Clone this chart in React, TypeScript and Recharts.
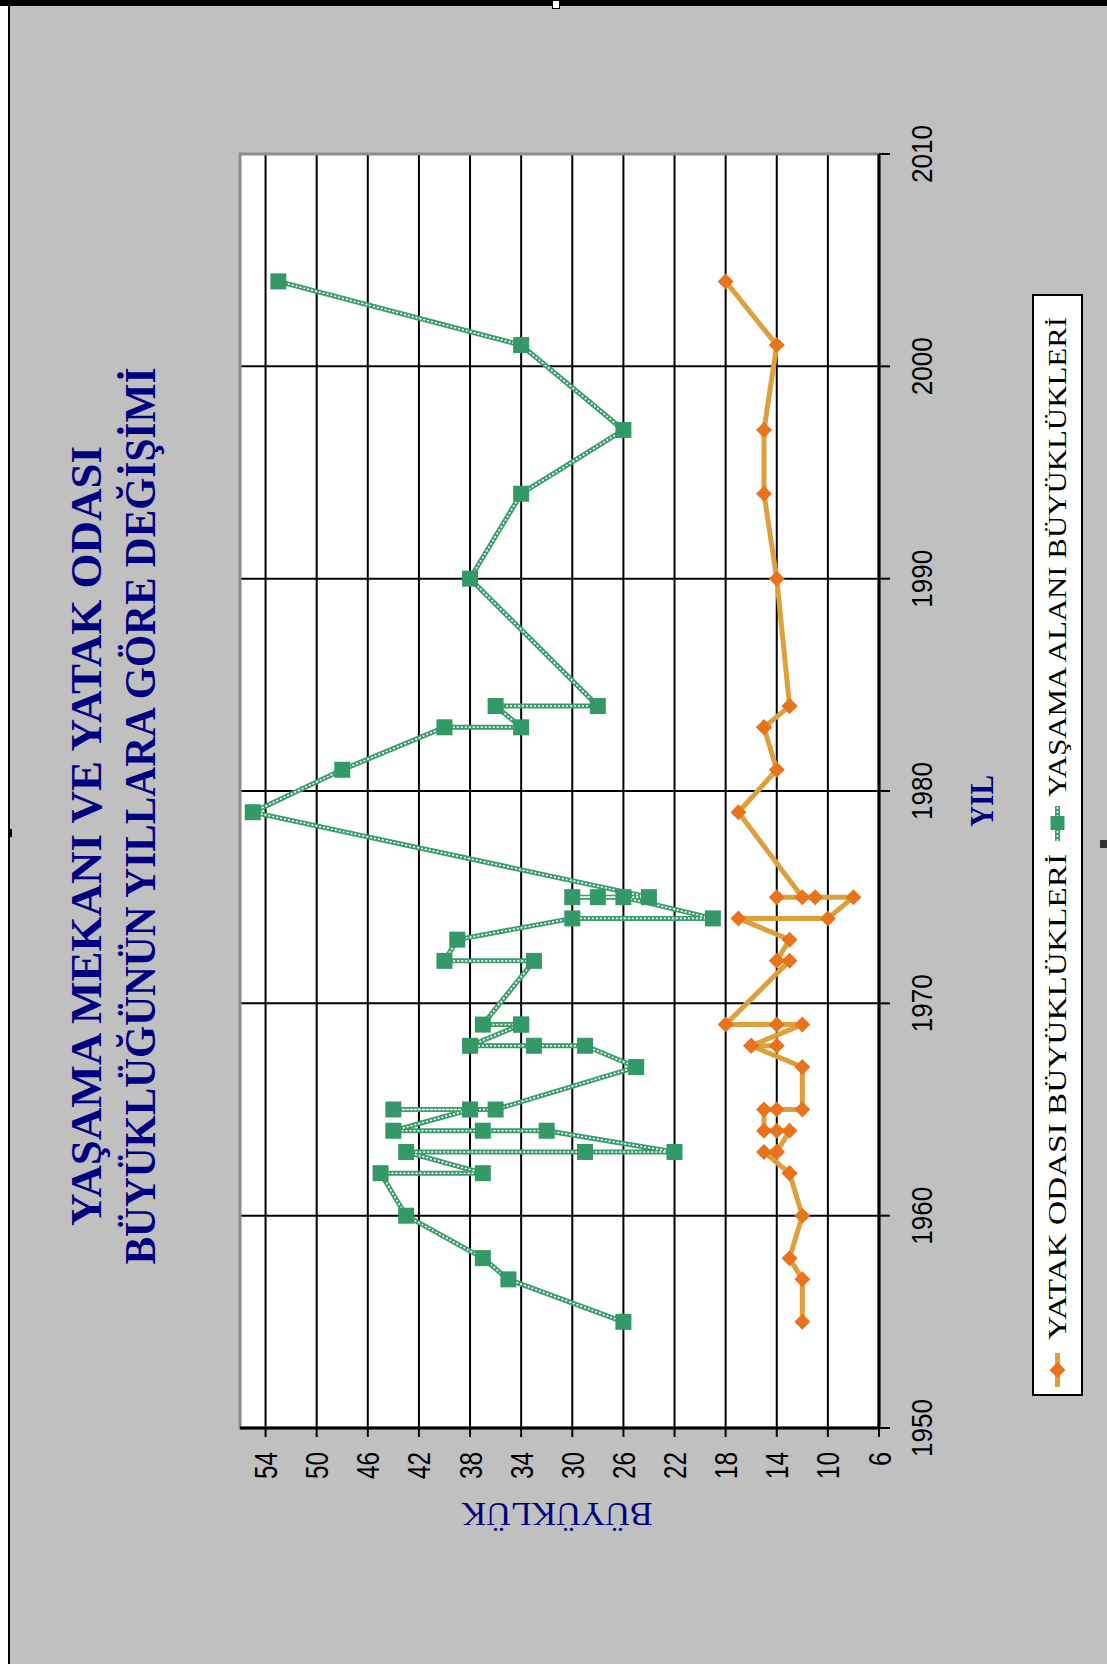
import React from 'react';
import { LineChart, Line, XAxis, YAxis, CartesianGrid, ReferenceArea } from 'recharts';

// ---- data ----
const years = [1955, 1957, 1958, 1960, 1962, 1962, 1963, 1963, 1963, 1964, 1964, 1964, 1965, 1965, 1965, 1967, 1968, 1968, 1968, 1969, 1969, 1969, 1972, 1972, 1973, 1974, 1974, 1975, 1975, 1975, 1975, 1979, 1981, 1983, 1983, 1984, 1984, 1990, 1994, 1997, 2001, 2004];
const bedroomSizes = [12, 12, 13, 12, 13, 13, 15, 14, 14, 13, 14, 15, 15, 14, 12, 12, 16, 14, 16, 12, 14, 18, 13, 14, 13, 17, 10, 8, 14, 11, 12, 17, 14, 15, 15, 13, 13, 14, 15, 15, 14, 18];
const livingSizes = [26, 35, 37, 43, 45, 37, 43, 29, 22, 32, 37, 44, 38, 44, 36, 25, 29, 33, 38, 34, 34, 37, 33, 40, 39, 30, 19, 26, 30, 28, 24, 55, 48, 40, 34, 36, 28, 38, 34, 26, 34, 53];
const yearTicks = [1950, 1960, 1970, 1980, 1990, 2000, 2010];
const sizeTicks = [6, 10, 14, 18, 22, 26, 30, 34, 38, 42, 46, 50, 54];
const titleLines = ['YAŞAMA MEKANI VE YATAK ODASI', 'BÜYÜKLÜĞÜNÜN YILLARA GÖRE DEĞİŞİMİ'];
const xTitle = 'YIL';
const yTitle = 'BÜYÜKLÜK';
const seriesNames = ['YATAK ODASI BÜYÜKLÜKLERİ', 'YAŞAMA ALANI BÜYÜKLÜKLERİ'];

const data = years.map((y, i) => ({ year: y, bed: bedroomSizes[i], living: livingSizes[i] }));

// ---- styles ----
const W = 1664;
const H = 1107;
const GREEN = '#339966';
const GREEN_LINE = '#3C9C6C';
const ORANGE_LINE = '#DDA03A';
const ORANGE_DOT = '#E8731C';
const NAVY = '#000080';
const SANS = '"Liberation Sans", Arial, sans-serif';
const SERIF = '"Liberation Serif", "Times New Roman", serif';

const Diamond = (p: any) => {
  const { cx, cy, index } = p;
  if (cx == null || cy == null) return <g key={`bd${index}`} />;
  const r = 8;
  return (
    <polygon
      key={`bd${index}`}
      points={`${cx},${cy - r} ${cx + r},${cy} ${cx},${cy + r} ${cx - r},${cy}`}
      fill={ORANGE_DOT}
    />
  );
};

const Square = (p: any) => {
  const { cx, cy, index } = p;
  if (cx == null || cy == null) return <g key={`sq${index}`} />;
  return <rect key={`sq${index}`} x={cx - 8} y={cy - 8} width={16} height={16} fill={GREEN} />;
};

const YearTick = (p: any) => (
  <text
    x={p.x}
    y={p.y + 40}
    textAnchor="middle"
    fontFamily={SANS}
    fontSize={30}
    fill="#000"
    textLength={58}
    lengthAdjust="spacingAndGlyphs"
  >
    {p.payload.value}
  </text>
);

const SizeTick = (p: any) => {
  const s = String(p.payload.value);
  return (
    <text
      x={p.x - 13}
      y={p.y + 11.5}
      textAnchor="end"
      fontFamily={SANS}
      fontSize={32}
      fill="#000"
      textLength={s.length === 1 ? 14 : 27}
      lengthAdjust="spacingAndGlyphs"
    >
      {s}
    </text>
  );
};

export default function App() {
  return (
    <div
      style={{
        position: 'fixed',
        left: 0,
        top: 0,
        width: 1107,
        height: 1664,
        background: '#C0C0C0',
        overflow: 'hidden',
      }}
    >
      {/* frame edges */}
      <div style={{ position: 'absolute', left: 0, top: 0, width: 8, height: 1664, background: '#fff' }} />
      <div style={{ position: 'absolute', left: 8, top: 0, width: 2, height: 1664, background: '#000' }} />
      <div style={{ position: 'absolute', left: 0, top: 0, width: 1107, height: 6, background: '#000' }} />
      <div style={{ position: 'absolute', left: 552, top: 0, width: 8, height: 9, background: '#fff', border: '1px solid #000', boxSizing: 'border-box' }} />
      <div style={{ position: 'absolute', left: 8, top: 829, width: 4, height: 8, background: '#000' }} />
      <div style={{ position: 'absolute', left: 1100, top: 840, width: 7, height: 8, background: '#333' }} />

      <div
        style={{
          position: 'absolute',
          left: 0,
          top: 0,
          width: W,
          height: H,
          transformOrigin: '0 0',
          transform: 'translateY(1664px) rotate(-90deg)',
        }}
      >
        <LineChart
          width={W}
          height={H}
          data={data}
          margin={{ top: 240, right: 154, bottom: 0, left: 0 }}
        >
          <CartesianGrid stroke="#000" strokeWidth={2} fill="#fff" />
          <ReferenceArea x1={1950} x2={2010} y1={6} y2={56} fill="none" stroke="#8c8c8c" strokeWidth={3} ifOverflow="visible" />
          <XAxis
            dataKey="year"
            type="number"
            domain={[1950, 2010]}
            ticks={yearTicks}
            height={228}
            tickSize={11}
            tickMargin={2}
            axisLine={{ stroke: '#000', strokeWidth: 3 }}
            tickLine={{ stroke: '#000', strokeWidth: 2 }}
            tick={YearTick}
            interval={0}
          />
          <YAxis
            type="number"
            domain={[6, 56]}
            ticks={sizeTicks}
            width={236}
            tickSize={9}
            tickMargin={2}
            axisLine={{ stroke: '#000', strokeWidth: 3 }}
            tickLine={{ stroke: '#000', strokeWidth: 2 }}
            tick={SizeTick}
            interval={0}
            allowDataOverflow
          />
          <Line
            dataKey="living"
            stroke={GREEN_LINE}
            strokeWidth={5}
            strokeLinejoin="round"
            dot={false}
            activeDot={false}
            isAnimationActive={false}
            legendType="none"
          />
          <Line
            dataKey="living"
            stroke="#ffffff"
            strokeWidth={1.6}
            strokeDasharray="2 2"
            dot={false}
            activeDot={false}
            isAnimationActive={false}
            legendType="none"
          />
          <Line
            dataKey="living"
            name={seriesNames[1]}
            stroke="none"
            dot={Square}
            activeDot={false}
            isAnimationActive={false}
          />
          <Line
            dataKey="bed"
            name={seriesNames[0]}
            stroke={ORANGE_LINE}
            strokeWidth={5}
            strokeLinejoin="round"
            dot={Diamond}
            activeDot={false}
            isAnimationActive={false}
          />
        </LineChart>

        <svg
          width={W}
          height={H}
          style={{ position: 'absolute', left: 0, top: 0, pointerEvents: 'none' }}
        >
          <text x={828} y={101} textAnchor="middle" fontFamily={SERIF} fontWeight="bold" fontSize={44} fill={NAVY} textLength={780} lengthAdjust="spacingAndGlyphs">
            {titleLines[0]}
          </text>
          <text x={848} y={155} textAnchor="middle" fontFamily={SERIF} fontWeight="bold" fontSize={44} fill={NAVY} textLength={897} lengthAdjust="spacingAndGlyphs">
            {titleLines[1]}
          </text>
          <text x={863} y={993} textAnchor="middle" fontFamily={SERIF} fontWeight="bold" fontSize={33} fill={NAVY} textLength={52} lengthAdjust="spacingAndGlyphs">
            {xTitle}
          </text>
          <text x={161} y={557} transform="rotate(-90 161 557)" textAnchor="middle" fontFamily={SERIF} fontSize={33} fill={NAVY} textLength={191} lengthAdjust="spacingAndGlyphs">
            {yTitle}
          </text>

          {/* legend */}
          <rect x={269} y={1033} width={1100} height={49} fill="#fff" stroke="#000" strokeWidth={2} />
          <line x1={277} y1={1057.5} x2={311} y2={1057.5} stroke={ORANGE_LINE} strokeWidth={5} />
          <polygon points="294,1049.5 302,1057.5 294,1065.5 286,1057.5" fill={ORANGE_DOT} />
          <text x={324} y={1066} fontFamily={SERIF} fontSize={26} fill="#000" textLength={486} lengthAdjust="spacingAndGlyphs">
            {seriesNames[0]}
          </text>
          <line x1={823} y1={1057.5} x2={858} y2={1057.5} stroke={GREEN_LINE} strokeWidth={5} />
          <line x1={823} y1={1057.5} x2={858} y2={1057.5} stroke="#fff" strokeWidth={1.6} strokeDasharray="2 2" />
          <rect x={834} y={1050.5} width={14} height={14} fill={GREEN} />
          <text x={867} y={1066} fontFamily={SERIF} fontSize={26} fill="#000" textLength={480} lengthAdjust="spacingAndGlyphs">
            {seriesNames[1]}
          </text>
        </svg>
      </div>
    </div>
  );
}
